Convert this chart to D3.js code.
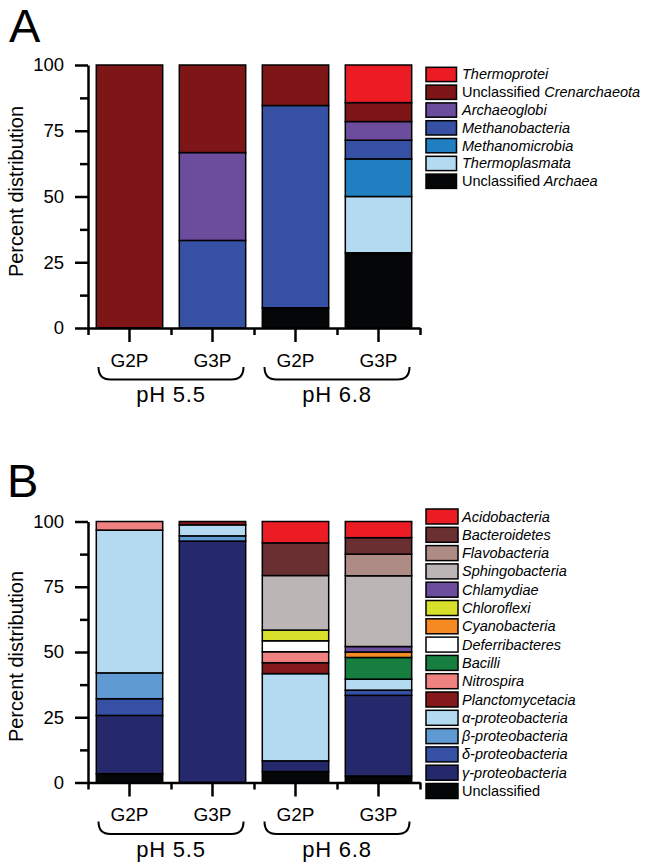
<!DOCTYPE html>
<html>
<head>
<meta charset="utf-8">
<script src="https://cdn.jsdelivr.net/npm/d3@7"></script>
<style>
  body { margin: 0; background: #fff; }
  text { font-family: "Liberation Sans", Arial, sans-serif; fill: #000; }
</style>
</head>
<body>
<script>
// samples along the x axis, and the two pH groups
var samples = ["G2P", "G3P", "G2P", "G3P"];
var groups = ["pH 5.5", "pH 6.8"];

// panel A - archaea, stacked bottom to top
var archaeaTaxa = ["Unclassified Archaea", "Thermoplasmata", "Methanomicrobia", "Methanobacteria",
                   "Archaeoglobi", "Unclassified Crenarchaeota", "Thermoprotei"];
var archaeaColors = ["#050608", "#b4daf2", "#1f7fc1", "#3650a3", "#6b4c9d", "#7e1618", "#ec1c24"];
var archaeaG2P55 = [0, 0, 0, 0, 0, 100, 0];
var archaeaG3P55 = [0, 0, 0, 33.3, 33.4, 33.3, 0];
var archaeaG2P68 = [7.7, 0, 0, 76.9, 0, 15.4, 0];
var archaeaG3P68 = [28.6, 21.4, 14.3, 7.1, 7.1, 7.2, 14.3];

// panel B - bacteria, stacked bottom to top
var bacteriaTaxa = ["Unclassified", "\u03b3-proteobacteria", "\u03b4-proteobacteria", "\u03b2-proteobacteria",
                    "\u03b1-proteobacteria", "Planctomycetacia", "Nitrospira", "Bacilli", "Deferribacteres",
                    "Cyanobacteria", "Chloroflexi", "Chlamydiae", "Sphingobacteria", "Flavobacteria",
                    "Bacteroidetes", "Acidobacteria"];
var bacteriaColors = ["#050608", "#26286c", "#3650a3", "#5f9bd2", "#b4daf2", "#84181a", "#f08181",
                      "#167f40", "#ffffff", "#f58a22", "#d8e02c", "#6b4c9d", "#bcb5b6", "#ae8c85",
                      "#6a2f31", "#ec1c24"];
var bacteriaG2P55 = [3.4, 22.3, 6.4, 9.9, 54.7, 0, 3.3, 0, 0, 0, 0, 0, 0, 0, 0, 0];
var bacteriaG3P55 = [0, 92.5, 0, 2.0, 4.2, 1.3, 0, 0, 0, 0, 0, 0, 0, 0, 0, 0];
var bacteriaG2P68 = [4.2, 4.1, 0, 0, 33.4, 4.2, 4.2, 0, 4.2, 0, 4.1, 0, 20.9, 0, 12.5, 8.2];
var bacteriaG3P68 = [2.5, 30.9, 2.0, 0, 4.2, 0, 0, 8.3, 0, 2.1, 0, 2.1, 27.1, 8.3, 6.3, 6.2];

var yTicks = [0, 25, 50, 75, 100];
var yMinor = [12.5, 37.5, 62.5, 87.5];

var svg = d3.select("body").append("svg").attr("width", 650).attr("height", 868);

function legendText(sel, name) {
  // "Unclassified" stays upright, taxon names are italic
  if (name.indexOf("Unclassified") === 0) {
    sel.append("tspan").text("Unclassified");
    var rest = name.slice(12);
    if (rest) sel.append("tspan").attr("font-style", "italic").text(rest);
  } else {
    sel.append("tspan").attr("font-style", "italic").text(name);
  }
}

function drawPanel(o) {
  var y = d3.scaleLinear().domain([0, 100]).range([o.bottom, o.top]);
  var x = d3.scaleBand().domain(d3.range(samples.length)).range([88, 420])
            .paddingInner(0.2).paddingOuter(0.1);
  var xEdge = d3.scaleLinear().domain([0, samples.length]).range([88, 420]);

  var rows = samples.map(function(s, i) {
    var r = {i: i};
    o.taxa.forEach(function(t, k) { r[t] = o.values[i][k]; });
    return r;
  });
  var series = d3.stack().keys(o.taxa)(rows);

  var g = svg.append("g");

  g.selectAll("g.layer").data(series).join("g")
    .attr("class", "layer")
    .attr("fill", function(d, k) { return o.colors[k]; })
    .selectAll("rect")
    .data(function(d) { return d.filter(function(p) { return p[1] - p[0] > 0; }); })
    .join("rect")
      .attr("x", function(p) { return x(p.data.i); })
      .attr("width", x.bandwidth())
      .attr("y", function(p) { return y(p[1]); })
      .attr("height", function(p) { return y(p[0]) - y(p[1]); })
      .attr("stroke", "#000").attr("stroke-width", 1.5);

  // y axis
  var yAxis = g.append("g").attr("transform", "translate(88,0)")
    .call(d3.axisLeft(y).tickValues(yTicks).tickSize(13).tickSizeOuter(0).tickPadding(11));
  yAxis.selectAll("text").attr("font-size", 18.5).attr("font-family", null);
  g.append("g").attr("transform", "translate(88,0)")
    .call(d3.axisLeft(y).tickValues(yMinor).tickSize(8).tickFormat(""))
    .select(".domain").remove();

  // x axis
  var xAxis = g.append("g").attr("transform", "translate(0," + o.bottom + ")")
    .call(d3.axisBottom(x).tickSize(14).tickSizeOuter(0).tickPadding(11.5)
            .tickFormat(function(i) { return samples[i]; }));
  xAxis.selectAll("text").attr("font-size", 19).attr("font-family", null);
  g.append("g").attr("transform", "translate(0," + o.bottom + ")")
    .call(d3.axisBottom(xEdge).tickValues(d3.range(samples.length + 1)).tickSize(7).tickFormat(""))
    .select(".domain").remove();

  g.selectAll(".domain, .tick line").attr("stroke", "#000").attr("stroke-width", 2.5);

  // braces and pH labels
  groups.forEach(function(name, j) {
    var c0 = x(2 * j) + x.bandwidth() / 2;
    var c1 = x(2 * j + 1) + x.bandwidth() / 2;
    var x0 = c0 - 31, x1 = c1 + 31;
    var y0 = o.bottom + 39, y1 = o.bottom + 51.5;
    g.append("path")
      .attr("d", "M" + x0 + "," + y0 + " Q" + x0 + "," + y1 + " " + (x0 + 12) + "," + y1 +
                 " L" + (x1 - 12) + "," + y1 + " Q" + x1 + "," + y1 + " " + x1 + "," + y0)
      .attr("fill", "none").attr("stroke", "#000").attr("stroke-width", 2);
    g.append("text").attr("x", (c0 + c1) / 2).attr("y", o.bottom + 74)
      .attr("text-anchor", "middle").attr("font-size", 22).attr("letter-spacing", 0.8)
      .text(name);
  });

  // axis title and panel letter
  g.append("text")
    .attr("transform", "translate(23," + o.labelY + ") rotate(-90)")
    .attr("text-anchor", "middle").attr("font-size", 20)
    .text("Percent distribution");
  g.append("text").attr("x", o.letterX).attr("y", o.letterY)
    .attr("font-size", 47).text(o.letter);

  // legend, top entry is the top of the stack
  var items = o.taxa.map(function(t, k) { return {name: t, color: o.colors[k]}; }).reverse();
  var lg = g.selectAll("g.legend").data(items).join("g")
    .attr("class", "legend")
    .attr("transform", function(d, k) { return "translate(426," + (o.legendTop + k * o.legendStep) + ")"; });
  lg.append("rect").attr("width", o.swatchW).attr("height", o.swatchH)
    .attr("fill", function(d) { return d.color; })
    .attr("stroke", "#000").attr("stroke-width", 1.5);
  lg.append("text").attr("x", 36).attr("y", o.swatchH / 2 + 5).attr("font-size", 14.5)
    .each(function(d) { legendText(d3.select(this), d.name); });
}

drawPanel({
  letter: "A", letterX: 9, letterY: 42,
  top: 65, bottom: 328, labelY: 191.5,
  taxa: archaeaTaxa, colors: archaeaColors,
  values: [archaeaG2P55, archaeaG3P55, archaeaG2P68, archaeaG3P68],
  legendTop: 67.3, legendStep: 17.8, swatchW: 30.5, swatchH: 14.3
});

drawPanel({
  letter: "B", letterX: 7, letterY: 497,
  top: 521.5, bottom: 782.5, labelY: 656.5,
  taxa: bacteriaTaxa, colors: bacteriaColors,
  values: [bacteriaG2P55, bacteriaG3P55, bacteriaG2P68, bacteriaG3P68],
  legendTop: 509, legendStep: 18.3, swatchW: 32, swatchH: 15
});
</script>
</body>
</html>
